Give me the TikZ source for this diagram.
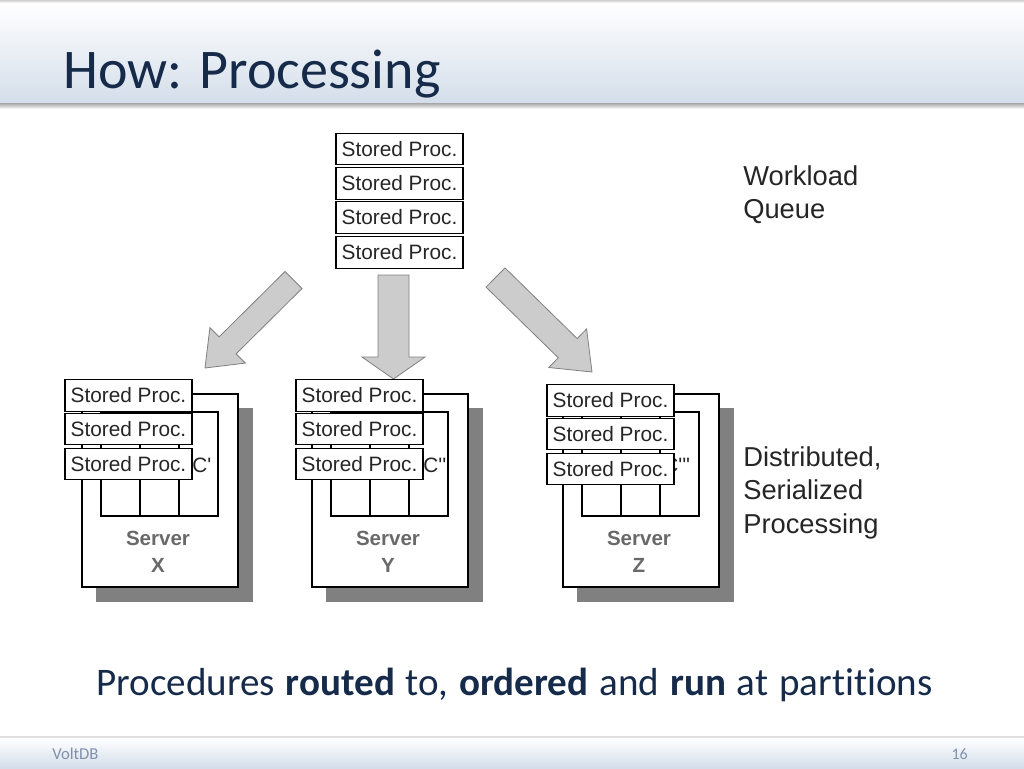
\documentclass[tikz,border=0pt]{standalone}
\usepackage{fontspec}
\setmainfont{Carlito}[Ligatures={TeX,NoCommon}]
\newfontfamily\arial{Liberation Sans}
\definecolor{titleblue}{RGB}{22,42,74}
\definecolor{barblue}{RGB}{212,222,234}
\definecolor{arrowfill}{RGB}{204,204,204}
\definecolor{arrowdraw}{RGB}{128,128,128}
\definecolor{foot}{RGB}{128,146,172}
\definecolor{srvgray}{RGB}{105,105,105}
\tikzset{
  sp/.style={draw=black, line width=0.8pt, fill=white, minimum width=95.25pt,
    minimum height=23.6pt, inner sep=0pt, text=black!85,
    font=\arial\fontsize{15.6}{18}\selectfont},
  side/.style={anchor=base west, inner sep=0pt, text=black!85,
    font=\arial\fontsize{20.5}{24}\selectfont},
  srvtxt/.style={inner sep=0pt, text=srvgray, font=\arial\bfseries\fontsize{15.4}{18}\selectfont},
  ctxt/.style={anchor=west, inner sep=0pt, text=black!85, font=\arial\fontsize{15.6}{18}\selectfont},
  blockarrow/.style={fill=arrowfill, draw=arrowdraw, line width=0.6pt, line join=miter},
  frame/.style={draw=black, line width=0.8pt},
}
% #1 name, #2 outer left x, #3 box centre x, #4 box y shift, #5 letter, #6 C text, #7 C offset
\newcommand\srvblock[7]{%
  \fill[gray] (#2+14,408) rectangle (#2+171,602);
  \draw[frame, fill=white] (#2,394) rectangle (#2+156,587);
  \draw[frame] (#2+19,412) rectangle (#2+136,516);
  \draw[frame] (#2+58,412) -- (#2+58,516);
  \draw[frame] (#2+97,412) -- (#2+97,516);
  \node[ctxt] (#1c) at (#2+#7,465) {#6};
  \node[srvtxt] (#1s) at (#2+76,538) {Server};
  \node[srvtxt] (#1l) at (#2+76,565) {#5};
  \node[sp] (#1p1) at (#3,395.5+#4) {Stored Proc.};
  \node[sp] (#1p2) at (#3,429+#4) {Stored Proc.};
  \node[sp] (#1p3) at (#3,464+#4) {Stored Proc.};
}
\begin{document}
\begin{tikzpicture}[x=0.75pt,y=-0.75pt]
\useasboundingbox (0,0) rectangle (1024,768);
\fill[white] (0,0) rectangle (1024,768);
% title bar
\shade[top color=black!18, bottom color=white] (0,0) rectangle (1024,3);
\shade[top color=white, bottom color=barblue] (0,3) rectangle (1024,103);
\shade[top color=black!35, bottom color=white] (0,103) rectangle (1024,109);
\node[anchor=base west, inner sep=0pt, text=titleblue, font=\fontsize{42}{48}\selectfont] (title) at (63,88) {How: Processing};
% footer
\draw[black!12, line width=0.8pt] (0,737) -- (1024,737);
\shade[top color=white, bottom color=barblue] (0,738) rectangle (1024,768);
\node[anchor=base west, inner sep=0pt, text=foot, font=\fontsize{12.5}{14}\selectfont] (brand) at (52,759) {VoltDB};
\node[anchor=base east, inner sep=0pt, text=foot, font=\fontsize{12}{14}\selectfont] (page) at (968,759) {16};
% workload queue
\node[sp] (q1) at (399.5,149) {Stored Proc.};
\node[sp] (q2) at (399.5,183.5) {Stored Proc.};
\node[sp] (q3) at (399.5,217.5) {Stored Proc.};
\node[sp] (q4) at (399.5,252.5) {Stored Proc.};
\node[side] (wl1) at (743,185) {Workload};
\node[side] (wl2) at (743,218) {Queue};
% block arrows
\draw[blockarrow] (285,271.5) -- (302,288.5) -- (236.1,353.9) -- (245.3,363.1) -- (205,368)
  -- (209.9,327.7) -- (219.1,336.9) -- cycle;
\draw[blockarrow] (378,275) -- (409,275) -- (409,357) -- (425,357) -- (393.5,379)
  -- (362,357) -- (378,357) -- cycle;
\draw[blockarrow] (505,267.9) -- (486,287.1) -- (558.3,357.8) -- (548.8,367.5) -- (592,372)
  -- (586.6,328.9) -- (577.2,338.6) -- cycle;
% servers
\srvblock{x}{82}{128.5}{0}{X}{C\textquotesingle}{110}
\srvblock{y}{312}{359.5}{0}{Y}{C\textquotesingle\textquotesingle}{111}
\srvblock{z}{563}{610.5}{5}{Z}{C\textquotesingle\textquotesingle\textquotesingle}{100}
\node[side] (d1) at (743,466) {Distributed,};
\node[side] (d2) at (743,499.5) {Serialized};
\node[side] (d3) at (743,533) {Processing};
% caption
\node[anchor=base west, inner sep=0pt, text=titleblue, font=\fontsize{29.3}{34}\selectfont] (cap) at (96,695)
  {\spaceskip=8.25pt Procedures \textbf{routed} to, \textbf{ordered} and \textbf{run} at partitions};
\end{tikzpicture}
\end{document}
